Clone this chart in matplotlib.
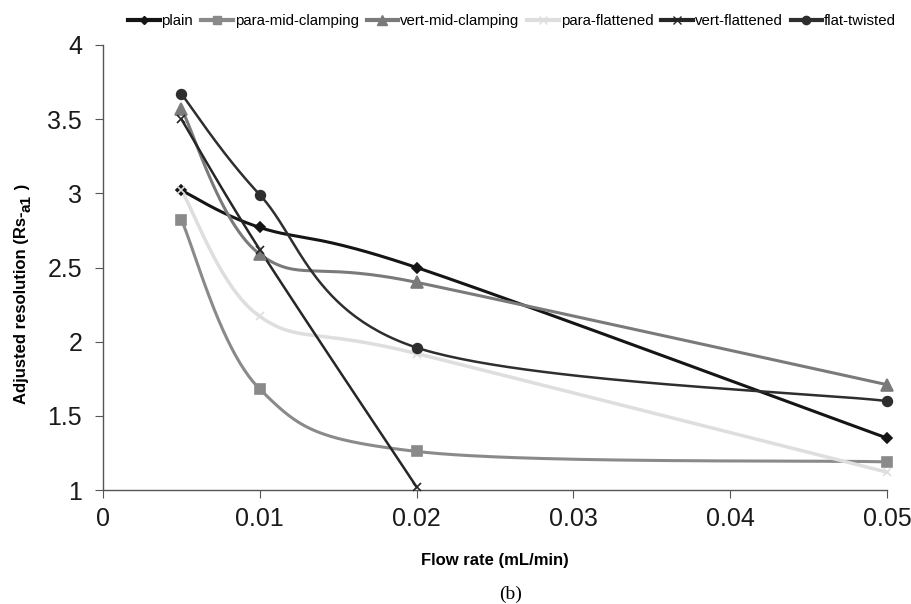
import numpy as np
import matplotlib
matplotlib.use("Agg")
import matplotlib.pyplot as plt
from matplotlib.lines import Line2D

flow = [0.005, 0.01, 0.02, 0.05]
plain = [3.02, 2.77, 2.50, 1.35]
para_mid = [2.82, 1.68, 1.26, 1.19]
vert_mid = [3.57, 2.59, 2.40, 1.71]
para_flat = [3.02, 2.17, 1.92, 1.12]
vert_flat_x = [0.005, 0.01, 0.02]
vert_flat = [3.50, 2.62, 1.02]
flat_twist = [3.67, 2.99, 1.96, 1.60]

xticks = [0, 0.01, 0.02, 0.03, 0.04, 0.05]
xticklabels = ["0", "0.01", "0.02", "0.03", "0.04", "0.05"]
yticks = [1, 1.5, 2, 2.5, 3, 3.5, 4]
yticklabels = ["1", "1.5", "2", "2.5", "3", "3.5", "4"]

SANS = ["Liberation Sans", "DejaVu Sans"]


def smooth(x, y, n=60):
    # Excel-like Bezier smoothing (Catmull-Rom, tension 1/6)
    x = np.asarray(x, float); y = np.asarray(y, float)
    px, py = [], []
    for i in range(len(x) - 1):
        x0, y0 = (x[i - 1], y[i - 1]) if i > 0 else (x[i], y[i])
        x3, y3 = (x[i + 2], y[i + 2]) if i + 2 < len(x) else (x[i + 1], y[i + 1])
        x1, y1, x2, y2 = x[i], y[i], x[i + 1], y[i + 1]
        c1x = x1 + (x2 - x0) / 6; c1y = y1 + (y2 - y0) / 6
        c2x = x2 - (x3 - x1) / 6; c2y = y2 - (y3 - y1) / 6
        t = np.linspace(0, 1, n)
        bx = (1-t)**3*x1 + 3*(1-t)**2*t*c1x + 3*(1-t)*t**2*c2x + t**3*x2
        by = (1-t)**3*y1 + 3*(1-t)**2*t*c1y + 3*(1-t)*t**2*c2y + t**3*y2
        px.extend(bx); py.extend(by)
    return px, py


fig = plt.figure(figsize=(9.12, 6.04), dpi=100)
ax = fig.add_axes([103/912, (604-490)/604, (887-103)/912, (490-45)/604])

series = [
    ("plain", flow, plain, "#151515", "D", 5, 2.2),
    ("para-mid-clamping", flow, para_mid, "#8a8a8a", "s", 7, 2.2),
    ("vert-mid-clamping", flow, vert_mid, "#7a7a7a", "^", 8, 2.2),
    ("para-flattened", flow, para_flat, "#dedede", "x", 6, 2.5),
    ("vert-flattened", vert_flat_x, vert_flat, "#262626", "x", 6, 1.8),
    ("flat-twisted", flow, flat_twist, "#2e2e2e", "o", 7, 1.8),
]

handles = []
for name, xs, ys, col, mk, ms, lw in series:
    sx, sy = smooth(xs, ys)
    ax.plot(sx, sy, color=col, lw=lw, zorder=2, clip_on=False)
    ax.plot(xs, ys, ls="none", marker=mk, ms=ms, color=col, mec=col,
            mew=1.2, zorder=3, clip_on=False)
    handles.append(Line2D([], [], color=col, lw=3, marker=mk,
                          ms=ms * 0.85, mec=col, label=name))

ax.set_xlim(0, 0.05)
ax.set_ylim(1, 4)
ax.set_xticks(xticks)
ax.set_xticklabels(xticklabels)
ax.set_yticks(yticks)
ax.set_yticklabels(yticklabels)
for s in ["top", "right"]:
    ax.spines[s].set_visible(False)
for s in ["left", "bottom"]:
    ax.spines[s].set_color("#555555")
    ax.spines[s].set_linewidth(1.0)
ax.tick_params(axis="both", direction="out", length=6, color="#555555",
               labelsize=18, labelcolor="#1a1a1a")
ax.tick_params(axis="y", pad=9)
ax.tick_params(axis="x", pad=6)
for lab in ax.get_xticklabels() + ax.get_yticklabels():
    lab.set_family(SANS)

ax.set_xlabel("Flow rate (mL/min)", fontsize=12, fontweight="bold",
              family=SANS, labelpad=16)

# y label built from pieces so the subscript stays near full size
t1 = fig.text(22/912, (604-404)/604, "Adjusted resolution (Rs-", rotation=90,
              ha="center", va="bottom", fontsize=12, fontweight="bold",
              family=SANS)
t2 = fig.add_artist(matplotlib.text.Annotation(
    "a1", xy=(0.5, 1), xycoords=t1, xytext=(3, 0), textcoords="offset points",
    rotation=90, ha="center", va="bottom", fontsize=11, fontweight="bold",
    family=SANS))
t3 = fig.add_artist(matplotlib.text.Annotation(
    " )", xy=(0.5, 1), xycoords=t2, xytext=(-3, 0), textcoords="offset points",
    rotation=90, ha="center", va="bottom", fontsize=12, fontweight="bold",
    family=SANS))

fig.legend(handles=handles, loc="center right",
           bbox_to_anchor=(896/912, 1 - 21/604),
           ncol=6, frameon=False, handlelength=2.1,
           handletextpad=0.13, columnspacing=0.53, borderaxespad=0,
           borderpad=0, prop={"family": SANS, "size": 10.8})

fig.text(511/912, 1 - 594/604, "(b)", ha="center", va="center", fontsize=14,
         family=["Liberation Serif", "DejaVu Serif"])

fig.savefig("out.png", dpi=100)
